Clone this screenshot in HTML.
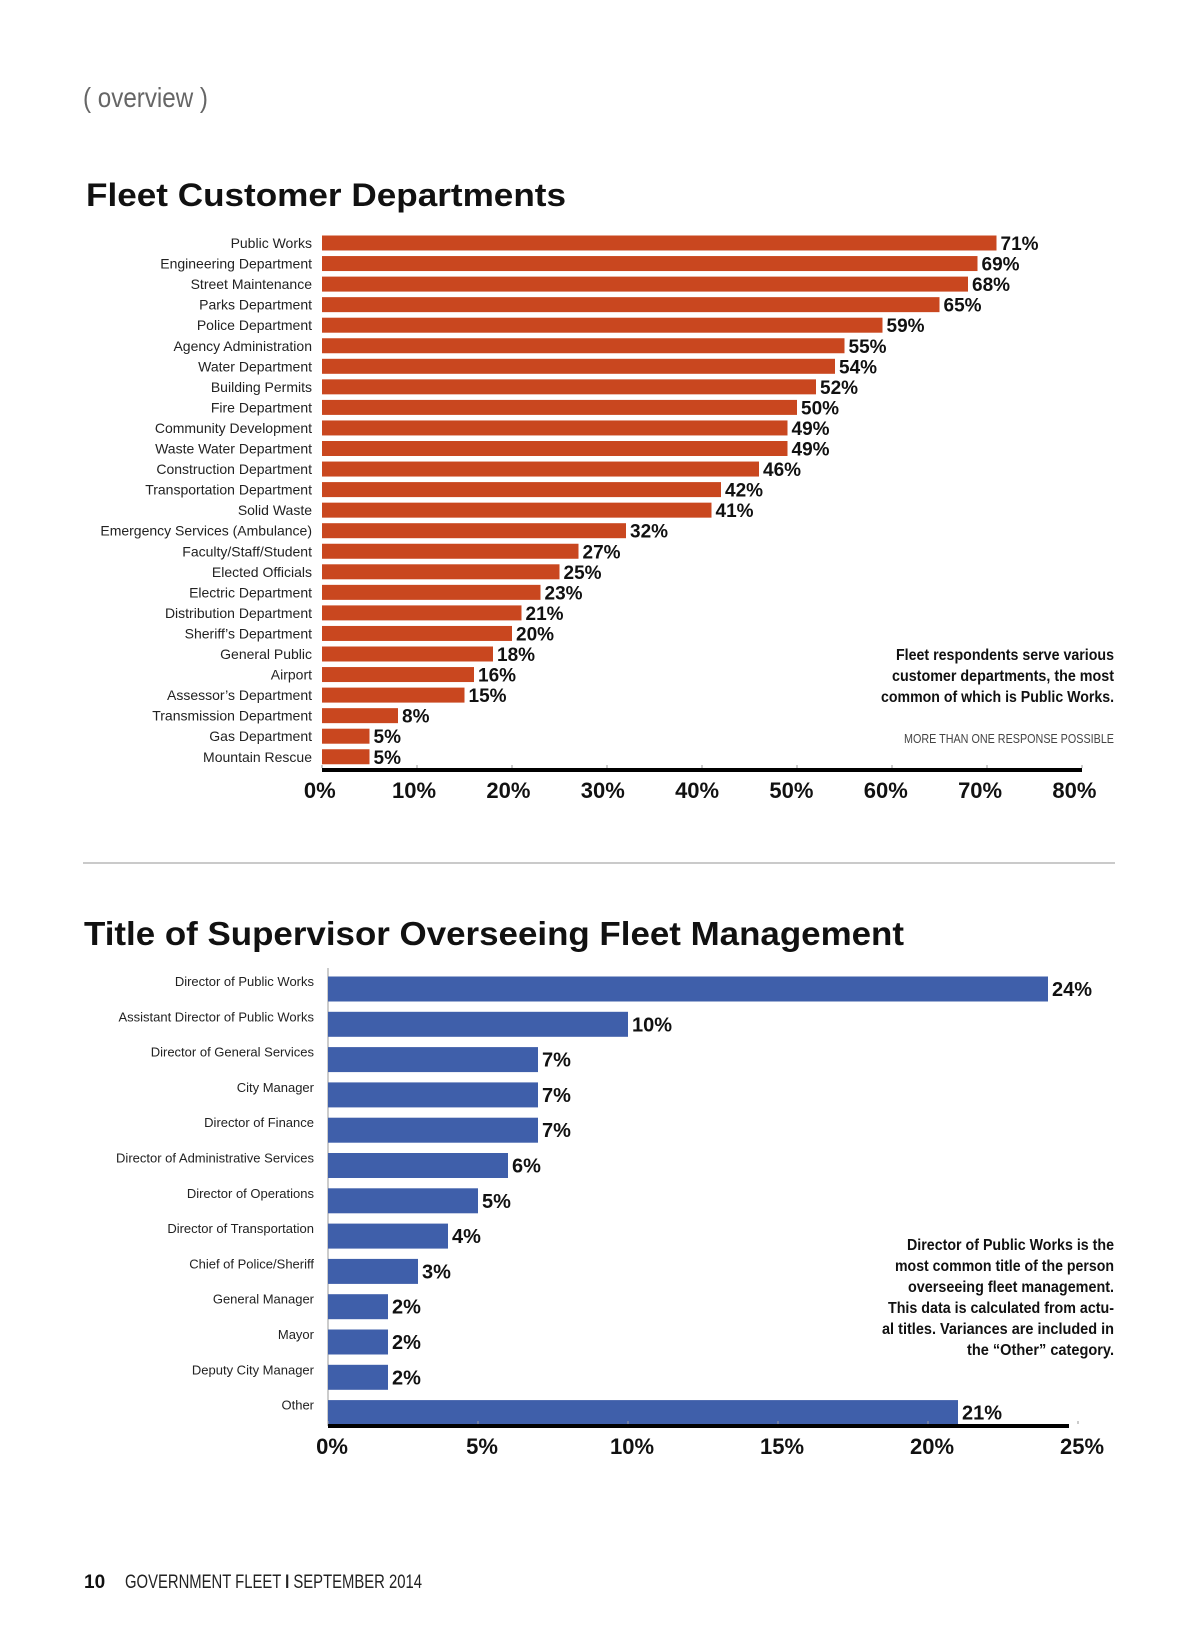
<!DOCTYPE html>
<html><head><meta charset="utf-8"><style>
html,body{margin:0;padding:0;background:#fff;}
body{width:1200px;height:1638px;overflow:hidden;position:relative;}
svg{position:absolute;left:0;top:0;}
</style></head><body>
<svg id="page" width="1200" height="1638" viewBox="0 0 1200 1638" xmlns="http://www.w3.org/2000/svg">
<text x="83" y="107" font-family="'Liberation Sans Narrow','Liberation Sans',sans-serif" font-size="28" fill="#666" textLength="125" lengthAdjust="spacingAndGlyphs">( overview )</text>
<text x="86" y="206" font-family="'Liberation Sans',sans-serif" font-weight="bold" font-size="32" fill="#111" textLength="480" lengthAdjust="spacingAndGlyphs">Fleet Customer Departments</text>
<g id="c1"></g>
<text font-family="'Liberation Sans Narrow','Liberation Sans',sans-serif" font-weight="bold" font-size="16" fill="#111" text-anchor="end">
<tspan x="1114" y="660" textLength="218" lengthAdjust="spacingAndGlyphs">Fleet respondents serve various</tspan><tspan x="1114" y="681" textLength="222" lengthAdjust="spacingAndGlyphs">customer departments, the most</tspan><tspan x="1114" y="702" textLength="233" lengthAdjust="spacingAndGlyphs">common of which is Public Works.</tspan></text>
<text x="1114" y="743" text-anchor="end" font-family="'Liberation Sans Narrow','Liberation Sans',sans-serif" font-size="13" fill="#444" textLength="210" lengthAdjust="spacingAndGlyphs">MORE THAN ONE RESPONSE POSSIBLE</text>
<line x1="83" y1="863" x2="1115" y2="863" stroke="#aaa" stroke-width="1.2"/>
<text x="84" y="945" font-family="'Liberation Sans',sans-serif" font-weight="bold" font-size="33" fill="#111" textLength="820" lengthAdjust="spacingAndGlyphs">Title of Supervisor Overseeing Fleet Management</text>
<g id="c2"></g>
<text font-family="'Liberation Sans Narrow','Liberation Sans',sans-serif" font-weight="bold" font-size="16" fill="#111" text-anchor="end">
<tspan x="1114" y="1250" textLength="207" lengthAdjust="spacingAndGlyphs">Director of Public Works is the</tspan><tspan x="1114" y="1271" textLength="219" lengthAdjust="spacingAndGlyphs">most common title of the person</tspan><tspan x="1114" y="1292" textLength="206" lengthAdjust="spacingAndGlyphs">overseeing fleet management.</tspan><tspan x="1114" y="1313" textLength="226" lengthAdjust="spacingAndGlyphs">This data is calculated from actu-</tspan><tspan x="1114" y="1334" textLength="232" lengthAdjust="spacingAndGlyphs">al titles. Variances are included in</tspan><tspan x="1114" y="1355" textLength="147" lengthAdjust="spacingAndGlyphs">the “Other” category.</tspan></text>
<text x="84" y="1588" font-family="'Liberation Sans Narrow','Liberation Sans',sans-serif" font-weight="bold" font-size="19" fill="#111">10</text>
<text x="125" y="1588" font-family="'Liberation Sans Narrow','Liberation Sans',sans-serif" font-size="19" fill="#222" textLength="297" lengthAdjust="spacingAndGlyphs">GOVERNMENT FLEET  <tspan font-weight="bold">I</tspan>  SEPTEMBER 2014</text>
</svg>
<script>
const depts=["Public Works","Engineering Department","Street Maintenance","Parks Department","Police Department","Agency Administration","Water Department","Building Permits","Fire Department","Community Development","Waste Water Department","Construction Department","Transportation Department","Solid Waste","Emergency Services (Ambulance)","Faculty/Staff/Student","Elected Officials","Electric Department","Distribution Department","Sheriff’s Department","General Public","Airport","Assessor’s Department","Transmission Department","Gas Department","Mountain Rescue"];
const deptValues=[71,69,68,65,59,55,54,52,50,49,49,46,42,41,32,27,25,23,21,20,18,16,15,8,5,5];
const deptTicks=[0,10,20,30,40,50,60,70,80];
const titles=["Director of Public Works","Assistant Director of Public Works","Director of General Services","City Manager","Director of Finance","Director of Administrative Services","Director of Operations","Director of Transportation","Chief of Police/Sheriff","General Manager","Mayor","Deputy City Manager","Other"];
const titleValues=[24,10,7,7,7,6,5,4,3,2,2,2,21];
const titleTicks=[0,5,10,15,20,25];

const NS="http://www.w3.org/2000/svg";
function mk(parent,tag,attrs,text){const e=document.createElementNS(NS,tag);for(const k in attrs)e.setAttribute(k,attrs[k]);if(text!==undefined)e.textContent=text;parent.appendChild(e);return e;}

function draw(g,cats,vals,ticks,o){
  const x=v=>o.x0+(v-ticks[0])/(ticks[ticks.length-1]-ticks[0])*(o.x1-o.x0);
  const y=i=>o.y0+i*o.pitch;
  cats.forEach((c,i)=>{
    const cy=y(i);
    const r=mk(g,'rect',{x:x(0),y:cy-o.bh/2,width:x(vals[i])-x(0),height:o.bh,fill:o.color});
    
    
    const l=mk(g,'text',{x:o.lx,y:cy+o.ldy,'text-anchor':'end','font-family':"'Liberation Sans',sans-serif",'font-size':o.lfs,fill:'#222'},c);
    
    
    const v=mk(g,'text',{x:x(vals[i])+4,y:cy+o.vdy,'font-family':"'Liberation Sans',sans-serif",'font-weight':'bold','font-size':o.vfs,fill:'#111'},vals[i]+'%');
    
    
  });
  const ax=mk(g,'rect',{x:x(ticks[0]),y:o.axy,width:o.axw,height:4,fill:'#000'});
  
  
  ticks.forEach(t=>{
    const tk=mk(g,'line',{x1:x(t),x2:x(t),y1:o.axy-3,y2:o.axy,stroke:'#999','stroke-width':1});
    
    
    const tl=mk(g,'text',{x:x(t)*o.tk+o.tdx,y:o.axy+30,'text-anchor':'middle','font-family':"'Liberation Sans',sans-serif",'font-weight':'bold','font-size':22,fill:'#111'},t+'%');
    
    
  });
}
const g2=document.getElementById('c2');
mk(g2,'line',{x1:328,x2:328,y1:968,y2:1426,stroke:'#999','stroke-width':1});
draw(document.getElementById('c1'),depts,deptValues,deptTicks,{x0:322,x1:1082,y0:243,pitch:20.55,bh:15,color:'#c9471f',lx:312,ldy:5,lfs:14,vdy:7,vfs:19,axy:768,axw:760,tk:0.993,tdx:0});
draw(g2,titles,titleValues,titleTicks,{x0:328,x1:1078,y0:989,pitch:35.3,bh:25,color:'#3f5faa',lx:314,ldy:-3,lfs:13,vdy:7,vfs:20,axy:1424,axw:741,tk:1,tdx:4});
</script>
</body></html>
